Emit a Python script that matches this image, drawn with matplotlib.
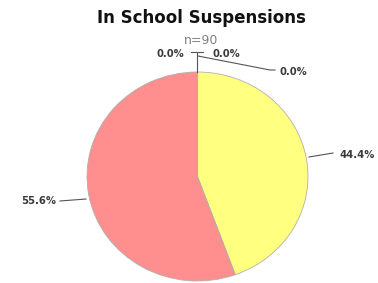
import matplotlib
matplotlib.use("Agg")
import matplotlib.pyplot as plt
import numpy as np

categories = ["A", "B", "C", "D", "E"]
values = [40, 50, 0, 0, 0]
labels = ["44.4%", "55.6%", "0.0%", "0.0%", "0.0%"]
colors = ["#FFFF80", "#FF8E8E", "#8080FF", "#80FF80", "#FFC080"]
title = "In School Suspensions"
subtitle = "n=90"

fig = plt.figure(figsize=(3.78, 2.83), dpi=100)
W, H = 378, 283
cx, cy, RX, RY = 197.5, 176.5, 110.5, 104.5
ax = fig.add_axes([(cx - RX) / W, (H - cy - RY) / H, 2 * RX / W, 2 * RY / H])
wedges, _ = ax.pie(values, colors=colors, startangle=90, counterclock=False,
                   wedgeprops=dict(edgecolor="#b0b0b0", linewidth=0.6))
ax.set_xlim(-1, 1)
ax.set_ylim(-1, 1)
ax.set_aspect("auto")
ax.axis("off")

def p(px, py):
    return ((px - cx) / RX, (cy - py) / RY)

lc = "#555555"
tc = "#3a3a3a"
fs = 7.2
kw = dict(fontsize=fs, color=tc, fontweight="bold", clip_on=False)
# 44.4%
ax.plot(*zip(p(309, 157), p(333, 153)), color=lc, lw=0.8, clip_on=False)
ax.text(*p(339, 155), labels[0], ha="left", va="center", **kw)
# 55.6%
ax.plot(*zip(p(86, 199), p(60, 201)), color=lc, lw=0.8, clip_on=False)
ax.text(*p(56, 201), labels[1], ha="right", va="center", **kw)
# zeros
ax.plot(*zip(p(197, 72), p(197, 52)), color=lc, lw=0.8, clip_on=False)
ax.plot(*zip(p(191, 52), p(203, 52)), color=lc, lw=0.8, clip_on=False)
ax.plot(*zip(p(198, 56), p(270, 70), p(275, 70)), color=lc, lw=0.8, clip_on=False)
ax.text(*p(170, 54), labels[2], ha="center", va="center", **kw)
ax.text(*p(226, 54), labels[3], ha="center", va="center", **kw)
ax.text(*p(293, 72), labels[4], ha="center", va="center", **kw)

fig.text(201 / W, 1 - 18 / H, title, ha="center", va="center", fontsize=12,
         fontweight="bold", color="#111111")
fig.text(201 / W, 1 - 40 / H, subtitle, ha="center", va="center", fontsize=9,
         color="#808080")

fig.savefig("out.png", dpi=100)
